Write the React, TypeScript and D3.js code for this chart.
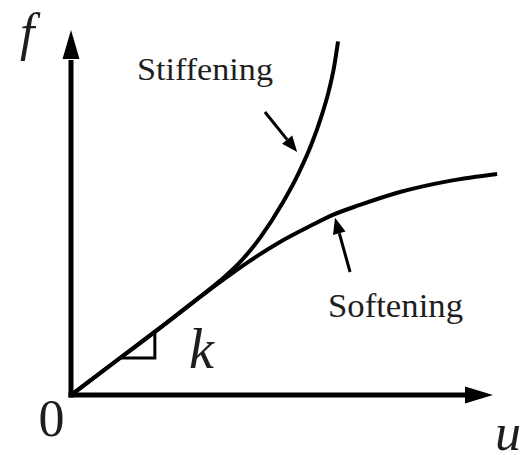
import React from "react";
import * as d3 from "d3";

// Force–displacement curves (u, f) in plot units
const stiffeningU = [0, 1.14, 2.07, 3.0, 3.47, 3.93, 4.4, 4.93, 5.28, 5.58, 5.81, 6.0, 6.12, 6.21];
const stiffeningF = [0, 0.86, 1.56, 2.28, 2.66, 3.09, 3.66, 4.48, 5.13, 5.8, 6.44, 7.09, 7.64, 8.22];
const softeningU = [0, 1.14, 2.07, 3.0, 3.47, 4.16, 4.86, 5.56, 6.09, 6.72, 7.65, 8.81, 9.91];
const softeningF = [0, 0.86, 1.56, 2.28, 2.63, 3.12, 3.56, 3.93, 4.19, 4.42, 4.72, 4.98, 5.14];

// Slope triangle marking the initial stiffness k
const slopeU = [1.14, 1.95, 1.95];
const slopeF = [0.86, 0.86, 1.47];

// Annotation arrows: [fromU, fromF, toU, toF]
const stiffArrow = [4.51, 6.58, 5.26, 5.65];
const softArrow = [6.49, 2.86, 6.14, 4.12];

const W = 532;
const H = 455;
const x = d3.scaleLinear().domain([0, 10]).range([71, 501]);
const y = d3.scaleLinear().domain([0, 8.5]).range([395, 29.5]);

const ink = "#000";
const textInk = "#1e1e1e";
const serif = "'Liberation Serif', 'DejaVu Serif', 'Times New Roman', serif";

function Arrow({ seg }: { seg: number[] }) {
  const x1 = x(seg[0]), y1 = y(seg[1]), x2 = x(seg[2]), y2 = y(seg[3]);
  const ang = Math.atan2(y2 - y1, x2 - x1);
  const len = 16, half = 6.5;
  const bx = x2 - len * Math.cos(ang), by = y2 - len * Math.sin(ang);
  const px = -Math.sin(ang) * half, py = Math.cos(ang) * half;
  return (
    <g>
      <line x1={x1} y1={y1} x2={bx} y2={by} stroke={ink} strokeWidth={3} />
      <polygon points={`${x2},${y2} ${bx + px},${by + py} ${bx - px},${by - py}`} fill={ink} />
    </g>
  );
}

export default function App() {
  const line = d3
    .line<[number, number]>()
    .x((d) => x(d[0]))
    .y((d) => y(d[1]))
    .curve(d3.curveMonotoneX);
  const stiff = stiffeningU.map((u, i) => [u, stiffeningF[i]] as [number, number]);
  const soft = softeningU.map((u, i) => [u, softeningF[i]] as [number, number]);
  const tri = slopeU.map((u, i) => `${x(u)},${y(slopeF[i])}`).join(" ");

  const ox = x(0), oy = y(0);
  const yTip = 30, yHeadBase = 59;
  const xTip = 493, xHeadBase = 465;

  const label = (size: number, italic = false): React.CSSProperties => ({
    fontFamily: serif,
    fontSize: size,
    fontStyle: italic ? "italic" : "normal",
    fill: textInk,
  });

  return (
    <svg
      width={W}
      height={H}
      style={{ position: "absolute", left: 0, top: 0, background: "#fff" }}
    >
      <rect width={W} height={H} fill="#fff" />
      {/* axes */}
      <line x1={ox} y1={oy + 2.5} x2={ox} y2={yHeadBase + 1} stroke={ink} strokeWidth={5} />
      <polygon points={`${ox},${yTip} ${ox - 8.5},${yHeadBase} ${ox + 8.5},${yHeadBase}`} fill={ink} />
      <line x1={ox - 2.5} y1={oy} x2={xHeadBase + 1} y2={oy} stroke={ink} strokeWidth={5} />
      <polygon points={`${xTip},${oy} ${xHeadBase},${oy - 8.5} ${xHeadBase},${oy + 8.5}`} fill={ink} />

      {/* curves */}
      <path d={line(stiff) || ""} fill="none" stroke={ink} strokeWidth={4} />
      <path d={line(soft) || ""} fill="none" stroke={ink} strokeWidth={4} />
      <polyline points={tri} fill="none" stroke={ink} strokeWidth={3} />

      <Arrow seg={stiffArrow} />
      <Arrow seg={softArrow} />

      {/* labels */}
      <text x={137} y={80} style={label(32)} textLength={136} lengthAdjust="spacingAndGlyphs">Stiffening</text>
      <text x={328} y={317} style={label(33)} textLength={135} lengthAdjust="spacingAndGlyphs">Softening</text>
      <text x={51.5} y={436} style={label(52)} textAnchor="middle">0</text>
      <text x={20} y={50} style={label(52, true)}>f</text>
      <text x={189} y={368} style={label(56, true)}>k</text>
      <text x={495} y={450} style={label(52, true)}>u</text>
    </svg>
  );
}
